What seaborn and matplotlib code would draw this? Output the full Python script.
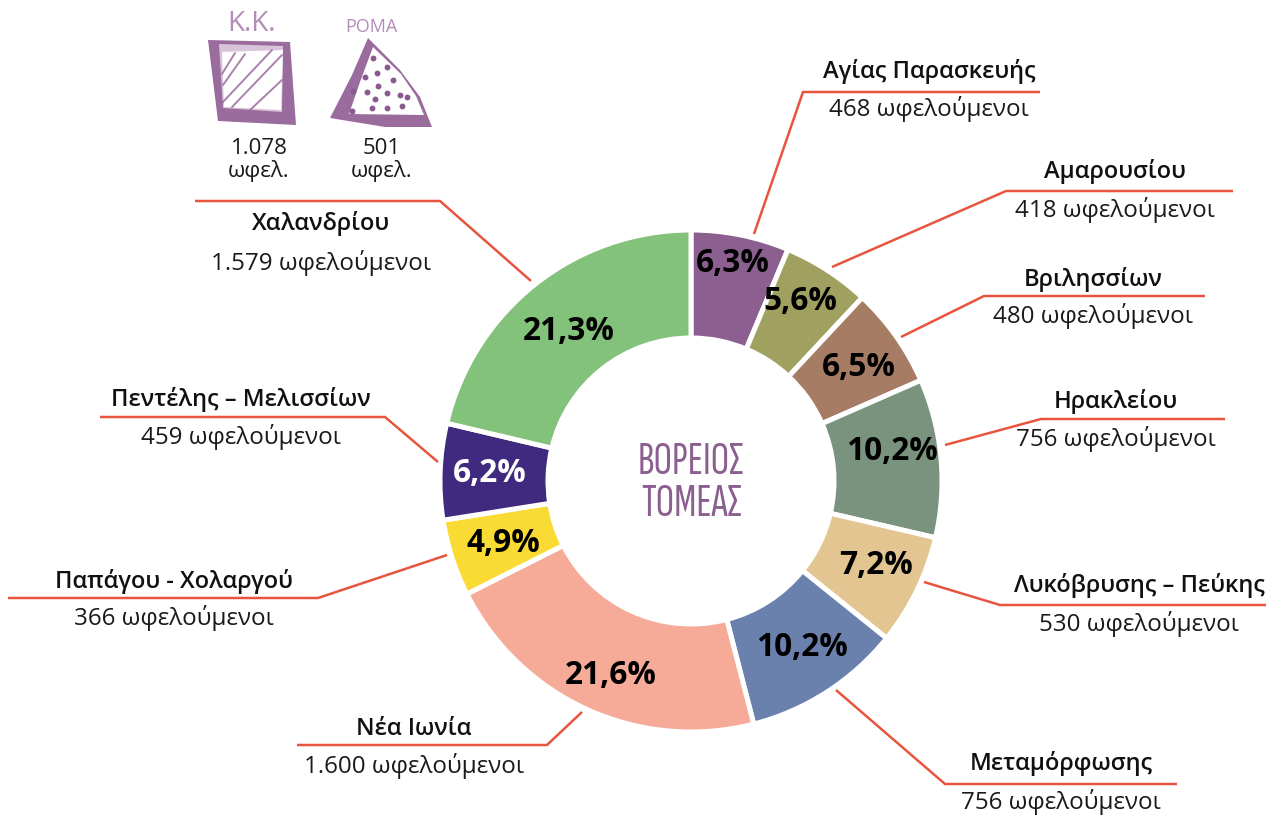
import matplotlib
matplotlib.use("Agg")
import matplotlib.pyplot as plt
import seaborn as sns

names = ["Αγίας Παρασκευής", "Αμαρουσίου", "Βριλησσίων", "Ηρακλείου", "Λυκόβρυσης – Πεύκης",
         "Μεταμόρφωσης", "Νέα Ιωνία", "Παπάγου - Χολαργού", "Πεντέλης – Μελισσίων", "Χαλανδρίου"]
beneficiaries = [468, 418, 480, 756, 530, 756, 1600, 366, 459, 1579]
counts_text = ["468", "418", "480", "756", "530", "756", "1.600", "366", "459", "1.579"]
shares = ["6,3%", "5,6%", "6,5%", "10,2%", "7,2%", "10,2%", "21,6%", "4,9%", "6,2%", "21,3%"]
colors = ["#8B5F8F", "#A0A060", "#A67C64", "#7A937F", "#E2C590",
          "#6A80AD", "#F5AB98", "#F9DB33", "#3F2A80", "#82C27A"]
unit = "ωφελούμενοι"
centre_title = ["ΒΟΡΕΙΟΣ", "ΤΟΜΕΑΣ"]

sns.set_theme(style="white")
plt.rcParams["font.family"] = ["Open Sans", "DejaVu Sans"]

W, H = 1266, 816
fig = plt.figure(figsize=(W / 100, H / 100), dpi=100, facecolor="white")
ax = fig.add_axes([0, 0, 1, 1])
Y = lambda py: H - py

# donut
CX, CY, R = 691, 481, 251
ax.pie(beneficiaries, colors=colors, startangle=90, counterclock=False,
       center=(CX, Y(CY)), radius=R, frame=True,
       wedgeprops=dict(width=R - 143, edgecolor="white", linewidth=3.6))
ax.set_xlim(0, W)
ax.set_ylim(0, H)
ax.set_aspect("equal")
ax.axis("off")

share_pos = [(733, 263), (800, 300), (859, 366), (892, 451), (876, 565),
             (802, 646), (611, 675), (503, 543), (490, 473), (569, 331)]
for s, (x, y), c in zip(shares, share_pos, colors):
    ax.text(x, Y(y + 1), s, ha="center", va="center", fontsize=22.8, fontweight="bold",
            color="white" if c == "#3F2A80" else "black")

# callouts
label_pos = [(929, 70, 108), (1115, 171, 209), (1093, 278, 315), (1116, 400, 438), (1139, 585, 623),
             (1061, 763, 801), (414, 728, 765), (174, 580, 617), (241, 398, 436), (321, 223, 262)]
for n, ct, (x, y1, y2) in zip(names, counts_text, label_pos):
    ax.text(x, Y(y1 + 1), n, ha="center", va="center", fontsize=17, fontweight=600, color="#111111")
    ax.text(x, Y(y2 + 1), f"{ct} {unit}", ha="center", va="center", fontsize=17.4, color="#1a1a1a")

leaders = [[(1040, 92), (803, 92), (754, 234)],
           [(1233, 191), (1006, 191), (832, 267)],
           [(1205, 296), (984, 296), (901, 337)],
           [(1225, 419), (1041, 419), (945, 445)],
           [(1266, 605), (1000, 605), (924, 582)],
           [(1177, 784), (945, 784), (836, 690)],
           [(297, 745), (547, 745), (582, 712)],
           [(8, 598), (318, 598), (447, 555)],
           [(100, 417), (385, 417), (438, 462)],
           [(195, 201), (440, 201), (531, 281)]]
for pts in leaders:
    ax.plot([p[0] for p in pts], [Y(p[1]) for p in pts], color="#E8553E", lw=1.8,
            solid_joinstyle="miter", solid_capstyle="butt")

# centre title
for t, y in zip(centre_title, (462, 505)):
    ax.text(CX, Y(y), t, ha="center", va="center", fontsize=33, fontweight=500, color="#8B5F8F",
            family=["Sofia Sans Extra Condensed", "Fira Sans Extra Condensed", "Roboto Condensed", "DejaVu Sans"])

# sketched icons
ink = "#9A6C9E"
pale = "#D9C3DB"
dark = "#8A5A8F"
def poly(pts, **kw):
    ax.fill([p[0] for p in pts], [Y(p[1]) for p in pts], **kw)

poly([(208, 40), (290, 42), (296, 125), (218, 121)], color=ink, lw=0)
poly([(219, 44), (283, 46), (282, 112), (223, 108)], color=pale, lw=0)
poly([(222, 52), (283, 50), (281, 110), (224, 107)], color="white", lw=0)
hatch = [((222, 74), (235, 53)), ((223, 85), (245, 54)), ((222, 103), (272, 50)),
         ((232, 107), (282, 55)), ((250, 110), (282, 80))]
for a, b in hatch:
    ax.plot([a[0], b[0]], [Y(a[1]), Y(b[1])], color=ink, lw=1.4, alpha=.85)
poly([(368, 38), (400, 70), (420, 97), (432, 127), (385, 127), (330, 118), (352, 75)], color=ink, lw=0)
poly([(373, 47), (401, 74), (416, 96), (424, 115), (349, 114), (360, 82)], color="white", lw=0)
dots = [(373, 58), (377, 73), (387, 67), (365, 77), (393, 80), (353, 91), (367, 92), (378, 86),
        (387, 93), (400, 95), (407, 97), (375, 99), (402, 106), (372, 108), (387, 108), (352, 111)]
ax.scatter([d[0] for d in dots], [Y(d[1]) for d in dots], s=18, color=dark, lw=0, zorder=3)
ax.text(252, Y(24), "Κ.Κ.", ha="center", va="center", fontsize=20, color="#B58CB8")
ax.text(371, Y(27), "ΡΟΜΑ", ha="center", va="center", fontsize=13, color="#B58CB8")

for x, a, b in [(259, "1.078", "ωφελ."), (382, "501", "ωφελ.")]:
    ax.text(x, Y(149), a, ha="center", va="center", fontsize=16, color="#1a1a1a")
    ax.text(x, Y(171), b, ha="center", va="center", fontsize=16, color="#1a1a1a")

fig.savefig("out.png", dpi=100, facecolor="white")
